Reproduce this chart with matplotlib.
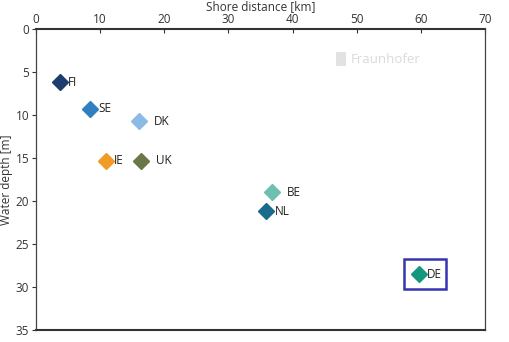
import numpy as np
import matplotlib
matplotlib.use("Agg")
from matplotlib import pyplot as plt
from matplotlib.patches import Rectangle

plt.rcParams['font.family'] = ['Open Sans', 'DejaVu Sans']

# countries, shore distance [km], water depth [m]
countries = ['FI', 'SE', 'DK', 'IE', 'UK', 'BE', 'NL', 'DE']
distance = [3.7, 8.4, 16.0, 10.9, 16.4, 36.8, 35.9, 59.7]
depth = [6.2, 9.3, 10.7, 15.3, 15.3, 19.0, 21.2, 28.5]
colors = ['#1c3d6e', '#2f7fc1', '#8dbae3', '#f09a28', '#6a7848',
          '#6fc0b0', '#1b6b8c', '#16967c']
label_gap = [6, 6, 11, 6, 11, 11, 6, 6]

fig = plt.figure(figsize=(5.09, 3.42), dpi=100)
ax = fig.add_axes([36/509, 1-330/342, (485-36)/509, (330-29)/342])

for c, x, y, col, g in zip(countries, distance, depth, colors, label_gap):
    ax.plot(x, y, marker='D', ms=8, color=col, mec=col, ls='none')
    ax.annotate(c, (x, y), xytext=(g, 0), textcoords='offset points',
                va='center', ha='left', fontsize=8.5, color='#222222')

# highlight box around DE
ax.add_patch(Rectangle((57.3, 26.8), 6.6, 3.4, fill=False,
                       ec='#3535b0', lw=1.8))

# faint watermark
ax.text(49.0, 3.5, 'Fraunhofer', fontsize=9.5, color='#dadada', ha='left', va='center')
ax.add_patch(Rectangle((46.8, 2.7), 1.6, 1.6, color='#e2e2e2', lw=0))

ax.set_xlim(0, 70)
ax.set_ylim(35, 0)
ax.xaxis.tick_top()
ax.xaxis.set_label_position('top')
ax.set_xticks(np.arange(0, 71, 10))
ax.set_yticks(np.arange(0, 36, 5))
ax.set_xlabel('Shore distance [km]', fontsize=8.5, color='#333333', labelpad=2)
ax.set_ylabel('Water depth [m]', fontsize=8.5, color='#333333', labelpad=2)
ax.tick_params(axis='x', direction='in', length=3, labelsize=8.5, colors='#333333', pad=2)
ax.tick_params(axis='y', direction='out', length=3, labelsize=8.5, colors='#333333', pad=2)
for s in ['top', 'bottom']:
    ax.spines[s].set_linewidth(1.5)
    ax.spines[s].set_color('#333333')
for s in ['left', 'right']:
    ax.spines[s].set_linewidth(0.9)
    ax.spines[s].set_color('#444444')

fig.savefig('out.png', dpi=100)
